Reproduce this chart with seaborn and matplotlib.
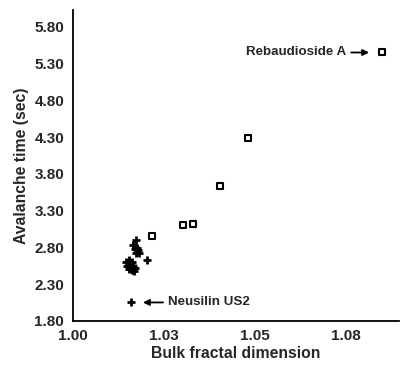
import matplotlib
matplotlib.use("Agg")
import matplotlib.pyplot as plt
import seaborn as sns
import pandas as pd

sns.set_style("white")
plt.rcParams['font.family'] = ['Liberation Sans', 'DejaVu Sans']
plt.rcParams['font.weight'] = 'bold'

# Open squares (excipients incl. Rebaudioside A)
sq_x = [1.0848, 1.0480, 1.0403, 1.0303, 1.0330, 1.0218]
sq_y = [5.45, 4.29, 3.64, 3.10, 3.12, 2.95]

# Plus markers (incl. Neusilin US2 at the bottom)
pl_x = [1.0175, 1.0166,
        1.0171, 1.0179, 1.0173, 1.0182, 1.0176,
        1.0204,
        1.0146, 1.0154, 1.0163, 1.0149, 1.0157, 1.0165, 1.0171, 1.0154, 1.0163, 1.0168,
        1.0159]
pl_y = [2.90, 2.83,
        2.78, 2.77, 2.72, 2.72, 2.79,
        2.63,
        2.60, 2.63, 2.60, 2.55, 2.56, 2.55, 2.52, 2.51, 2.49, 2.48,
        2.05]

x_ticks = [1.000, 1.025, 1.050, 1.075]
x_ticklabels = ["1.00", "1.03", "1.05", "1.08"]
y_ticks = [1.80, 2.30, 2.80, 3.30, 3.80, 4.30, 4.80, 5.30, 5.80]

df_sq = pd.DataFrame({"x": sq_x, "y": sq_y})
df_pl = pd.DataFrame({"x": pl_x, "y": pl_y})

fig = plt.figure(figsize=(4.01, 3.65), dpi=100)
ax = fig.add_axes([0.181, 0.121, 0.814, 0.852])

sns.scatterplot(data=df_sq, x="x", y="y", marker="s", s=20,
                facecolor="white", edgecolor="black", linewidth=1.5, ax=ax, zorder=3)
sns.scatterplot(data=df_pl, x="x", y="y", marker="+", s=36,
                color="black", linewidth=2.0, ax=ax, zorder=3)

ax.set_xlim(1.0, 1.0895)
ax.set_ylim(1.80, 6.03)
ax.set_xticks(x_ticks)
ax.set_xticklabels(x_ticklabels)
ax.set_yticks(y_ticks)
ax.set_yticklabels([f"{v:.2f}" for v in y_ticks])
ax.tick_params(length=0, labelsize=11, pad=6)
for lab in ax.get_xticklabels() + ax.get_yticklabels():
    lab.set_fontweight('bold')

ax.set_xlabel("Bulk fractal dimension", fontsize=11.3, fontweight='bold', labelpad=2)
ax.set_ylabel("Avalanche time (sec)", fontsize=11.3, fontweight='bold', labelpad=4)

for side in ["top", "right"]:
    ax.spines[side].set_visible(False)
for side in ["left", "bottom"]:
    ax.spines[side].set_color("black")
    ax.spines[side].set_linewidth(1.3)

ax.annotate("Rebaudioside A", xy=(1.0813, 5.45), xytext=(1.0751, 5.45),
            ha="right", va="center", fontsize=9.6, fontweight="bold",
            arrowprops=dict(arrowstyle="-|>", color="black", lw=1.3,
                            shrinkA=1, shrinkB=0, mutation_scale=9))
ax.annotate("Neusilin US2", xy=(1.0193, 2.05), xytext=(1.0261, 2.05),
            ha="left", va="center", fontsize=9.6, fontweight="bold",
            arrowprops=dict(arrowstyle="-|>", color="black", lw=1.3,
                            shrinkA=1, shrinkB=0, mutation_scale=9))

fig.savefig("out.png", dpi=100)
